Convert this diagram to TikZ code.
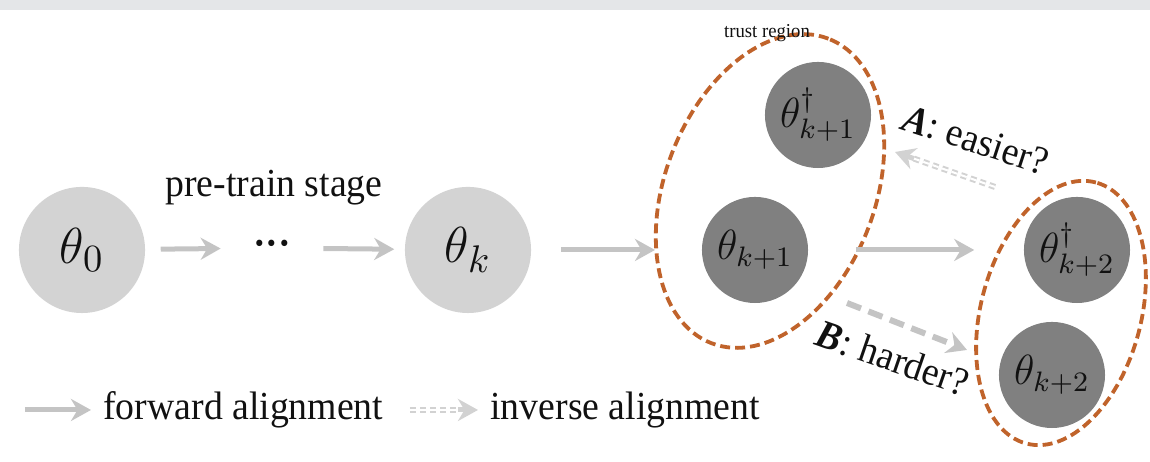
\documentclass[tikz,border=0pt]{standalone}
\usepackage{fontspec}
\setmainfont{Liberation Serif}
\newfontfamily\tafont[FakeStretch=0.95]{Liberation Serif}
\usetikzlibrary{arrows.meta,calc,positioning,shapes.geometric}
\definecolor{taink}{HTML}{111111}
\definecolor{talight}{HTML}{D3D3D3}
\definecolor{tadark}{HTML}{808080}
\definecolor{taarrow}{HTML}{C4C4C4}
\definecolor{tainv}{HTML}{D2D2D2}
\definecolor{taorange}{HTML}{C0632B}
\definecolor{tabar}{HTML}{E4E6E8}
\tikzset{
  ta text/.style={font=\tafont\fontsize{11.3}{13}\selectfont, text=taink},
  ta light/.style={circle, fill=talight, minimum size=12.6mm, inner sep=0pt,
    font=\fontsize{15}{18}\selectfont},
  ta dark/.style={circle, fill=tadark, minimum size=10.6mm, inner sep=0pt,
    font=\fontsize{11.5}{14}\selectfont},
  ta region/.style={ellipse, draw=taorange, line width=0.038cm, inner sep=0pt,
    dash pattern=on 0.1cm off 0.05cm},
  ta arrow/.style={-{Stealth[length=2mm,width=2.2mm]}, draw=taarrow, line width=0.05cm},
  ta dashed/.style={-{Stealth[length=2mm,width=2.2mm]}, draw=taarrow, line width=0.06cm,
    dash pattern=on 0.15cm off 0.08cm},
  ta inverse/.style={draw=tainv, line width=0.02cm, double=white, double distance=0.02cm,
    dash pattern=on 0.06cm off 0.04cm, shorten >=2mm},
  ta tip/.style={-{Stealth[length=2mm,width=2.2mm]}, draw=tainv, line width=0.05cm}
}

\begin{document}
\begin{tikzpicture}[ta text, x=0.01cm, y=0.01cm]
  \useasboundingbox (0,0) rectangle (1150,462);
  \fill[tabar] (0,452) rectangle (1150,462);

  % pre-train chain
  \node[ta light] (th0) at (82,212) {$\theta_0$};
  \node (dots) at (272,214) {\textbf{\textperiodcentered\textperiodcentered\textperiodcentered}};
  \node[ta light] (thk) at (468,212) {$\theta_k$};
  \node at (274,274) {pre-train stage};
  \draw[ta arrow, shorten <=0.15cm, shorten >=0.2cm] (th0) -- (dots);
  \draw[ta arrow, shorten <=0.2cm, shorten >=0.1cm] (dots) -- (thk);

  % trust regions
  \node[ta region, rotate=69, minimum width=3.26cm, minimum height=2.1cm] (tr1) at (770,271) {};
  \node[ta region, rotate=75, minimum width=2.7cm, minimum height=1.6cm] (tr2) at (1061,149) {};
  \node[font=\tafont\fontsize{5.6}{7}\selectfont] at (767,429) {trust region};

  \node[ta dark] (thd1) at (818,347) {$\theta^{\dagger}_{k+1}$};
  \node[ta dark] (th1) at (755,212) {$\theta_{k+1}$};
  \node[ta dark] (thd2) at (1077,212) {$\theta^{\dagger}_{k+2}$};
  \node[ta dark] (th2) at (1052,87) {$\theta_{k+2}$};

  \coordinate (trin) at (655,212);
  \draw[ta arrow, shorten <=0.29cm] (thk) -- (trin);
  \draw[ta arrow, shorten <=0.47cm, shorten >=0.49cm] (th1) -- (thd2);

  % option A and B
  \coordinate (astart) at (995,275);
  \coordinate (aend) at (895,310);
  \draw[ta inverse] (astart) -- (aend);
  \draw[ta tip] ($(aend)!2mm!(astart)$) -- (aend);
  \coordinate (bstart) at (847,159);
  \coordinate (bend) at (967,112);
  \draw[ta dashed] (bstart) -- (bend);
  \node[rotate=-18] at (976,322) {\textbf{\textit{A}}: easier?};
  \node[rotate=-19] at (893,104) {\textbf{\textit{B}}: harder?};

  % legend
  \coordinate (fwdstart) at (25,52);
  \node[anchor=west] (fwdtxt) at (91,52) {forward alignment};
  \draw[ta arrow] (fwdstart) -- (fwdtxt.west);
  \coordinate (invstart) at (410,52);
  \node[anchor=west] (invtxt) at (478,52) {inverse alignment};
  \draw[ta inverse] (invstart) -- (invtxt.west);
  \draw[ta tip] ($(invtxt.west)+(-20,0)$) -- (invtxt.west);
\end{tikzpicture}
\end{document}
